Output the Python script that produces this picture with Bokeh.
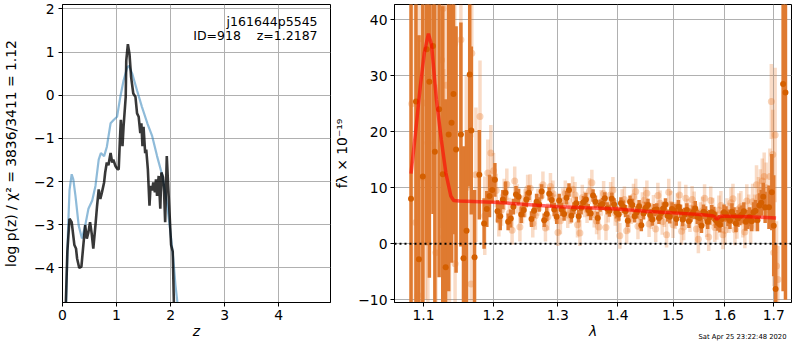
from bokeh.plotting import figure
from bokeh.layouts import row
from bokeh.models import (FixedTicker, CustomJSTickFormatter, Span, Label, Title,
                          ColumnDataSource, Range1d)
from bokeh.embed import file_html
from bokeh.resources import INLINE

# ---------------- left panel data: log p(z) ----------------
z_smooth = [0.06, 0.10, 0.13, 0.17, 0.20, 0.24, 0.30, 0.36, 0.42, 0.48, 0.55, 0.61,
            0.67, 0.71, 0.77, 0.82, 0.89, 0.95, 1.01, 1.07, 1.13, 1.20, 1.23, 1.29,
            1.38, 1.47, 1.57, 1.66, 1.75, 1.85, 1.93, 1.99, 2.05, 2.09, 2.14, 2.17]
logp_smooth = [-5.2, -3.2, -2.2, -1.83, -1.95, -2.33, -3.02, -3.32, -3.02, -2.63, -2.44, -2.10,
               -1.49, -1.34, -1.41, -1.20, -0.65, -0.57, -0.50, -0.04, 0.34, 0.65, 0.68, 0.50,
               0.11, -0.27, -0.65, -0.95, -1.41, -1.87, -2.48, -3.09, -3.78, -4.39, -4.95, -5.3]

z_chi2 = [0.05, 0.09, 0.13, 0.17, 0.22, 0.25, 0.27, 0.31, 0.35, 0.38, 0.42, 0.45,
          0.48, 0.51, 0.54, 0.57, 0.61, 0.64, 0.67, 0.70, 0.73, 0.77, 0.79, 0.82,
          0.85, 0.89, 0.92, 0.94, 0.98, 1.01, 1.04, 1.06, 1.08, 1.11, 1.13, 1.17,
          1.18, 1.21, 1.24, 1.27, 1.31, 1.35, 1.38, 1.41, 1.44, 1.46, 1.48, 1.50,
          1.53, 1.55, 1.58, 1.61, 1.63, 1.66, 1.68, 1.71, 1.73, 1.75, 1.78, 1.81,
          1.83, 1.86, 1.88, 1.90, 1.93, 1.95, 1.98, 2.01, 2.04, 2.07]
logp_chi2 = [-5.3, -3.62, -2.86, -2.94, -3.47, -3.55, -3.78, -4.00, -3.97, -3.55, -3.01, -3.32,
             -3.17, -2.94, -3.20, -3.55, -3.01, -2.56, -2.18, -2.40, -2.25, -2.02, -1.79, -1.56,
             -1.62, -1.34, -1.56, -1.49, -1.64, -1.70, -1.72, -1.11, -0.57, -1.18, -0.73, -0.04,
             0.80, 1.18, 0.95, 0.42, 0.04, -0.04, -0.42, -0.50, -0.88, -0.65, -1.18, -0.73,
             -1.34, -1.26, -1.72, -2.56, -2.10, -2.20, -2.02, -2.25, -1.95, -2.33, -1.87, -2.63,
             -1.79, -1.90, -2.25, -2.94, -1.41, -1.95, -2.71, -3.47, -3.62, -5.3]

# ---------------- right panel data: 1D spectrum ----------------
dark_lam = [1.0830, 1.0897, 1.0937, 1.0990, 1.1044, 1.1080, 1.1130, 1.1156, 1.1215, 1.1266,
            1.1307, 1.1349, 1.1390, 1.1417, 1.1454, 1.1523, 1.1560, 1.1604, 1.1650, 1.1673,
            1.1720, 1.1790,
            1.186, 1.194, 1.202, 1.210, 1.218, 1.226, 1.234, 1.242, 1.250, 1.258,
            1.266, 1.274, 1.282, 1.290, 1.298, 1.306, 1.314, 1.322, 1.330, 1.338,
            1.346, 1.354, 1.362, 1.370, 1.378, 1.386, 1.394, 1.402, 1.410, 1.418,
            1.426, 1.434, 1.442, 1.450, 1.458, 1.466, 1.474, 1.482, 1.490, 1.498,
            1.506, 1.514, 1.522, 1.530, 1.538, 1.546, 1.554, 1.562, 1.570, 1.578,
            1.586, 1.594, 1.602, 1.610, 1.618, 1.626, 1.634, 1.642, 1.650, 1.658,
            1.666, 1.674, 1.682,
            1.690, 1.696, 1.700, 1.704, 1.720, 1.725]
dark_flux = [8.0, 25.4, -2.8, 12.0, 34.7, 28.9, 35.3, 16.4, 24.0, 12.4,
             -4.2, 19.5, 21.6, 26.7, 16.8, 19.5, -2.6, 2.3, 30.2, 20.2,
             -2.4, 12.3,
             3.6, 8.5, 11.4, 4.9, 9.1, 4.5, 8.8, 5.2, 7.9, 4.4,
             7.5, 9.3, 5.3, 7.8, 4.8, 6.1, 8.2, 5.0, 7.2, 6.4,
             7.9, 5.4, 7.5, 6.8, 8.1, 5.9, 7.0, 5.2, 6.6, 4.1,
             6.9, 5.6, 3.3, 6.4, 5.1, 6.0, 4.6, 6.3, 5.0, 6.2,
             4.4, 5.8, 5.2, 4.0, 5.6, 4.8, 3.2, 5.4, 4.7, 5.3,
             3.7, 4.4, 5.3, 4.1, 5.0, 4.5, 5.2, 3.9, 4.8, 5.6,
             4.2, 7.3, 6.5,
             6.5, 9.2, 3.2, -8.1, 28.5, 27.0]
dark_err = [50, 40, 40, 40, 35, 35, 30, 30, 30, 30,
            30, 28, 25, 25, 22, 20, 20, 18, 20, 15,
            12, 8,
            4.5, 3.8, 3.0, 2.5, 2.0, 1.6, 1.5, 1.5, 1.4, 1.4,
            1.4, 1.3, 1.3, 1.3, 1.3, 1.2, 1.2, 1.2, 1.2, 1.2,
            1.2, 1.2, 1.1, 1.1, 1.1, 1.1, 1.1, 1.1, 1.1, 1.1,
            1.1, 1.1, 1.1, 1.1, 1.1, 1.1, 1.1, 1.1, 1.1, 1.2,
            1.2, 1.2, 1.2, 1.2, 1.2, 1.3, 1.3, 1.3, 1.3, 1.3,
            1.4, 1.4, 1.4, 1.5, 1.5, 1.5, 1.6, 1.6, 1.7, 1.8,
            2.0, 2.3, 2.8,
            3.9, 6.8, 9.0, 8.0, 37, 37]

dark_lam2 = [1.190, 1.198, 1.206, 1.214, 1.222, 1.230, 1.238, 1.246, 1.254, 1.262,
             1.270, 1.278, 1.286, 1.294, 1.302, 1.310, 1.318, 1.326, 1.334, 1.342,
             1.350, 1.358, 1.366, 1.374, 1.382, 1.390, 1.398, 1.406, 1.414, 1.422,
             1.430, 1.438, 1.446, 1.454, 1.462, 1.470, 1.478, 1.486, 1.494, 1.502,
             1.510, 1.518, 1.526, 1.534, 1.542, 1.550, 1.558, 1.566, 1.574, 1.582,
             1.590, 1.598, 1.606, 1.614, 1.622, 1.630, 1.638, 1.646, 1.654, 1.662,
             1.670, 1.678]
dark_flux2 = [6.2, 9.6, 5.8, 7.9, 3.9, 6.6, 8.4, 6.0, 9.1, 5.9,
              7.0, 4.2, 8.9, 6.1, 7.7, 5.3, 9.6, 6.3, 4.9, 7.4,
              6.0, 8.6, 4.6, 7.1, 6.3, 8.0, 5.6, 7.2, 5.8, 7.5,
              4.9, 6.7, 5.4, 6.9, 4.3, 6.1, 5.5, 7.0, 4.8, 5.9,
              6.6, 4.3, 6.0, 5.1, 6.3, 4.6, 5.7, 3.9, 5.6, 4.2,
              3.4, 5.6, 4.6, 5.7, 3.6, 4.9, 5.8, 4.3, 4.0, 5.9,
              6.8, 8.4]
dark_err2 = [3.2, 2.4, 2.0, 1.7, 1.5, 1.4, 1.4, 1.3, 1.3, 1.3,
             1.3, 1.2, 1.2, 1.2, 1.2, 1.2, 1.2, 1.1, 1.1, 1.1,
             1.1, 1.1, 1.1, 1.1, 1.1, 1.1, 1.1, 1.1, 1.1, 1.1,
             1.1, 1.1, 1.1, 1.1, 1.1, 1.1, 1.1, 1.1, 1.2, 1.2,
             1.2, 1.2, 1.2, 1.2, 1.3, 1.3, 1.3, 1.3, 1.3, 1.4,
             1.4, 1.4, 1.5, 1.5, 1.5, 1.6, 1.6, 1.7, 1.8, 1.9,
             2.2, 2.5]

light_lam = [1.0840, 1.0894, 1.0924, 1.0947, 1.0990, 1.1027, 1.1060, 1.1170, 1.1250, 1.1270,
             1.1280, 1.1316, 1.1360, 1.1436, 1.1440, 1.1523, 1.1600, 1.1670, 1.1680, 1.1740,
             1.1800, 1.1870, 1.1915, 1.1960,
             1.204, 1.212, 1.220, 1.228, 1.236, 1.244, 1.252, 1.260, 1.268, 1.276,
             1.284, 1.292, 1.300, 1.308, 1.316, 1.324, 1.332, 1.340, 1.348, 1.356,
             1.364, 1.372, 1.380, 1.388, 1.396, 1.404, 1.412, 1.420, 1.428, 1.436,
             1.444, 1.452, 1.460, 1.468, 1.476, 1.484, 1.492, 1.500, 1.508, 1.516,
             1.524, 1.532, 1.540, 1.548, 1.556, 1.564, 1.572, 1.580, 1.588, 1.596,
             1.604, 1.612, 1.620, 1.628, 1.636, 1.644, 1.652, 1.660, 1.668, 1.676,
             1.684,
             1.692, 1.695, 1.698, 1.700, 1.703, 1.706, 1.709]
light_flux = [25.0, 3.8, -9.2, 36.6, 11.8, 25.1, 18.0, -1.6, 32.8, 42.0,
              1.2, 28.3, 9.5, 35.7, -3.6, 36.4, 10.0, -7.2, 34.0, 12.3,
              22.7, 5.0, 12.6, 16.2,
              9.5, 6.0, 10.6, 2.4, 8.0, 6.1, 9.8, 3.6, 7.4, 10.5,
              4.8, 8.9, 2.0, 7.6, 5.1, 9.7, 3.4, 8.2, 6.0, 10.9,
              4.0, 7.3, 2.9, 8.7, 5.5, 1.4, 7.9, 4.3, 8.4, 3.1,
              6.9, 9.0, 4.9, 2.6, 7.2, 5.3, 9.2, 3.4, 6.6, 2.2,
              8.1, 4.5, 6.8, 0.8, 5.9, 3.7, 7.7, 2.9, 6.0, 1.6,
              5.4, 7.3, 2.5, 6.2, 4.0, 7.6, 3.1, 5.5, 8.3, 11.2,
              10.0,
              12.0, 25.4, 15.9, -1.6, 19.4, -4.0, -6.4]
light_err = [45, 40, 40, 40, 35, 35, 35, 30, 30, 30,
             30, 28, 26, 25, 25, 20, 20, 18, 15, 12,
             10, 7, 6, 5,
             3.0, 2.8, 2.8, 2.6, 2.6, 2.5, 2.5, 2.5, 2.4, 2.4,
             2.4, 2.4, 2.4, 2.3, 2.3, 2.3, 2.3, 2.3, 2.3, 2.3,
             2.3, 2.3, 2.3, 2.3, 2.3, 2.3, 2.3, 2.3, 2.3, 2.3,
             2.3, 2.3, 2.3, 2.3, 2.3, 2.3, 2.4, 2.4, 2.4, 2.4,
             2.4, 2.4, 2.5, 2.5, 2.5, 2.5, 2.5, 2.6, 2.6, 2.6,
             2.7, 2.7, 2.8, 2.8, 2.9, 3.0, 3.1, 3.3, 3.6, 4.0,
             4.5,
             5.0, 6.7, 8.0, 6.0, 12.0, 8.0, 6.0]

light_lam2 = [1.200, 1.208, 1.216, 1.224, 1.232, 1.240, 1.248, 1.256, 1.264, 1.272,
              1.280, 1.288, 1.296, 1.304, 1.312, 1.320, 1.328, 1.336, 1.344, 1.352,
              1.360, 1.368, 1.376, 1.384, 1.392, 1.400, 1.408, 1.416, 1.424, 1.432,
              1.440, 1.448, 1.456, 1.464, 1.472, 1.480, 1.488, 1.496, 1.504, 1.512,
              1.520, 1.528, 1.536, 1.544, 1.552, 1.560, 1.568, 1.576, 1.584, 1.592,
              1.600, 1.608, 1.616, 1.624, 1.632, 1.640, 1.648, 1.656, 1.664, 1.672,
              1.680]
light_flux2 = [13.0, 4.2, 8.8, 5.5, 11.2, 3.0, 7.2, 9.9, 5.0, 8.3,
               2.8, 10.2, 6.4, 4.1, 9.0, 5.8, 8.7, 1.9, 7.0, 9.4,
               5.2, 3.0, 8.9, 6.1, 9.6, 4.4, 7.4, 2.3, 5.8, 9.3,
               4.9, 7.8, 3.5, 6.4, 8.6, 3.9, 1.6, 7.0, 5.0, 8.7,
               3.0, 5.6, 7.9, 2.6, 4.9, 8.1, 1.2, 5.7, 3.3, 6.8,
               2.4, 4.6, 8.0, 3.7, 6.6, 2.1, 5.8, 7.5, 10.5, 9.4,
               12.0]
light_err2 = [3.2, 2.9, 2.8, 2.7, 2.6, 2.6, 2.5, 2.5, 2.5, 2.4,
              2.4, 2.4, 2.4, 2.4, 2.3, 2.3, 2.3, 2.3, 2.3, 2.3,
              2.3, 2.3, 2.3, 2.3, 2.3, 2.3, 2.3, 2.3, 2.3, 2.3,
              2.3, 2.3, 2.3, 2.3, 2.3, 2.3, 2.3, 2.4, 2.4, 2.4,
              2.4, 2.4, 2.4, 2.5, 2.5, 2.5, 2.5, 2.5, 2.6, 2.6,
              2.6, 2.7, 2.7, 2.8, 2.8, 2.9, 3.0, 3.2, 3.5, 3.9,
              4.3]

model_lam = [1.083, 1.089, 1.0955, 1.101, 1.1067, 1.111, 1.1178, 1.1245, 1.131, 1.138,
             1.142, 1.150, 1.20, 1.25, 1.30, 1.35, 1.40, 1.45, 1.50, 1.55,
             1.575, 1.580, 1.584, 1.589, 1.595, 1.60, 1.65, 1.705]
model_flux = [12.5, 19.7, 28.0, 34.0, 37.5, 35.5, 25.7, 18.6, 12.6, 8.5,
              7.7, 7.6, 7.4, 7.0, 6.6, 6.4, 6.2, 5.8, 5.5, 5.2,
              5.0, 4.8, 4.35, 4.8, 4.9, 4.9, 4.8, 4.6]

left_xticks = [0, 1, 2, 3, 4]
left_yticks = [-4, -3, -2, -1, 0, 1, 2]
right_xticks = [1.1, 1.2, 1.3, 1.4, 1.5, 1.6, 1.7]
right_yticks = [-10, 0, 10, 20, 30, 40]

FONT = "DejaVu Sans"
FS = "13.9px"
MINUS_FMT = "return (tick < 0 ? '\u2212' : '') + Math.abs(tick).toString();"


def style(p):
    p.background_fill_color = "white"
    p.border_fill_color = "white"
    p.outline_line_color = "black"
    p.outline_line_width = 1
    p.outline_line_alpha = 1
    p.grid.grid_line_color = "#b0b0b0"
    p.grid.grid_line_width = 1
    for ax in (p.xaxis[0], p.yaxis[0]):
        ax.axis_line_color = "black"
        ax.major_tick_line_color = "black"
        ax.major_tick_out = 4
        ax.major_tick_in = 0
        ax.minor_tick_line_color = None
        ax.major_label_text_font = FONT
        ax.major_label_text_font_size = FS
        ax.major_label_text_color = "black"
        ax.axis_label_text_font = FONT
        ax.axis_label_text_font_size = FS
        ax.axis_label_text_color = "black"
    p.xaxis[0].major_label_standoff = 3
    p.xaxis[0].axis_label_standoff = 0
    p.yaxis[0].axis_label_text_font_style = "normal"
    p.xaxis[0].axis_label_text_font_style = "italic"
    p.yaxis[0].formatter = CustomJSTickFormatter(code=MINUS_FMT)


H = 342
# ---------------- left figure ----------------
p1 = figure(width=331, height=H, x_range=Range1d(0, 4.96), y_range=Range1d(-4.8, 2.1),
            output_backend="svg", toolbar_location=None,
            min_border_left=62, min_border_right=1, min_border_top=4, min_border_bottom=40)
style(p1)
p1.xaxis.ticker = FixedTicker(ticks=left_xticks)
p1.yaxis.ticker = FixedTicker(ticks=left_yticks)
p1.xaxis.axis_label = "z"
p1.yaxis.axis_label = "log p(z) / χ² = 3836/3411 = 1.12"
p1.yaxis.major_label_standoff = 4
p1.yaxis.axis_label_standoff = 12

p1.line(z_smooth, logp_smooth, line_color="#1f77b4", line_alpha=0.5, line_width=2.2)
p1.line(z_chi2, logp_chi2, line_color="black", line_alpha=0.78, line_width=2.6)

p1.add_layout(Label(x=4.72, y=1.71, text="j161644p5545", text_align="right",
                    text_baseline="middle", text_font=FONT, text_font_size="12.5px",
                    text_color="black"))
p1.add_layout(Label(x=4.72, y=1.38, text="ID=918\u00a0\u00a0\u00a0\u00a0z=1.2187", text_align="right",
                    text_baseline="middle", text_font=FONT, text_font_size="12.5px",
                    text_color="black"))

# ---------------- right figure ----------------
p2 = figure(width=461, height=H, x_axis_type="log",
            x_range=Range1d(1.061, 1.738), y_range=Range1d(-10.5, 42.7),
            output_backend="svg", toolbar_location=None,
            min_border_left=62, min_border_right=1, min_border_top=4, min_border_bottom=40)
style(p2)
p2.xaxis.ticker = FixedTicker(ticks=right_xticks)
p2.xaxis.formatter = CustomJSTickFormatter(code="return tick.toFixed(1);")
p2.yaxis.ticker = FixedTicker(ticks=right_yticks)
p2.xaxis.axis_label = "λ"
p2.yaxis.axis_label = "fλ × 10⁻¹⁹"
p2.yaxis.major_label_standoff = 3
p2.yaxis.axis_label_standoff = 5

ORANGE = "#e8711a"


def errsrc(lam, flux, err):
    return ColumnDataSource(dict(x=lam, y=flux,
                                 lo=[f - e for f, e in zip(flux, err)],
                                 hi=[f + e for f, e in zip(flux, err)]))


light_src = errsrc(light_lam + light_lam2, light_flux + light_flux2, light_err + light_err2)
dark_src = errsrc(dark_lam + dark_lam2, dark_flux + dark_flux2, dark_err + dark_err2)

p2.segment(x0="x", y0="lo", x1="x", y1="hi", source=light_src,
           line_color=ORANGE, line_alpha=0.25, line_width=3.5)
p2.scatter("x", "y", source=light_src, size=7, fill_color=ORANGE, fill_alpha=0.3,
           line_color=None)
p2.segment(x0="x", y0="lo", x1="x", y1="hi", source=dark_src,
           line_color="#df7a30", line_alpha=1, line_width=3.5)
p2.scatter("x", "y", source=dark_src, size=6, fill_color="#d45f00", line_color=None)
p2.line(model_lam, model_flux, line_color="red", line_alpha=0.6, line_width=3.5)

p2.add_layout(Span(location=0, dimension="width", line_color="black",
                   line_width=2, line_dash="2 3"))
p2.add_layout(Title(text="Sat Apr 25 23:22:48 2020", align="right", vertical_align="top",
                    text_font=FONT, text_font_size="6.8px", text_font_style="normal",
                    text_color="black", standoff=-17, offset=5), "below")

layout = row(p1, p2)
open("out.html", "w").write(file_html(layout, INLINE))
